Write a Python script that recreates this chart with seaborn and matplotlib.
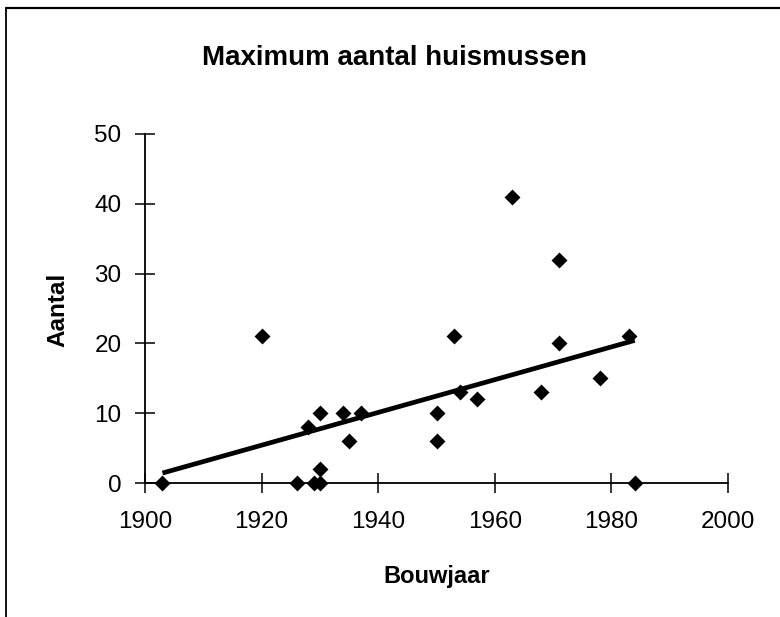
import matplotlib
matplotlib.use("Agg")
import matplotlib.pyplot as plt
from matplotlib.lines import Line2D
import seaborn as sns
import pandas as pd

# Data
bouwjaar = [1903, 1920, 1926, 1928, 1929, 1930, 1930, 1930, 1934, 1935, 1937,
            1950, 1950, 1953, 1954, 1957, 1963, 1968, 1971, 1971, 1978, 1983, 1984]
aantal = [0, 21, 0, 8, 0, 0, 2, 10, 10, 6, 10,
          10, 6, 21, 13, 12, 41, 13, 32, 20, 15, 21, 0]
x_ticks = [1900, 1920, 1940, 1960, 1980, 2000]
y_ticks = [0, 10, 20, 30, 40, 50]
title = "Maximum aantal huismussen"
x_label = "Bouwjaar"
y_label = "Aantal"

df = pd.DataFrame({"Bouwjaar": bouwjaar, "Aantal": aantal})

sns.set_style("ticks")
plt.rcParams["font.family"] = ["Liberation Sans", "DejaVu Sans"]
plt.rcParams["text.color"] = "black"
plt.rcParams["xtick.color"] = "black"
plt.rcParams["ytick.color"] = "black"
plt.rcParams["xtick.labelcolor"] = "black"
plt.rcParams["ytick.labelcolor"] = "black"

W, H = 780, 617
fig = plt.figure(figsize=(W / 100, H / 100), dpi=100)
ax = fig.add_axes([145 / W, 1 - 483 / H, 583 / W, 349 / H])

sns.regplot(data=df, x="Bouwjaar", y="Aantal", ax=ax, ci=None, color="black",
            marker="D",
            scatter_kws={"s": 66, "linewidths": 0, "clip_on": False, "zorder": 3,
                         "alpha": 1.0},
            line_kws={"linewidth": 3.4, "solid_capstyle": "butt", "zorder": 4})

ax.set_xlim(1900, 2000)
ax.set_ylim(0, 50)
ax.set_xticks(x_ticks)
ax.set_yticks(y_ticks)
ax.set_xlabel("")
ax.set_ylabel("")
sns.despine(ax=ax)
for side in ("left", "bottom"):
    ax.spines[side].set_linewidth(1.3)
    ax.spines[side].set_color("black")
ax.tick_params(axis="both", direction="inout", length=14, width=1.1,
               colors="black", labelsize=17.5)
ax.tick_params(axis="y", pad=10)
ax.tick_params(axis="x", pad=13)

fig.text(395 / W, 1 - 65 / H, title, ha="center", va="baseline",
         fontsize=20, fontweight="bold", color="black")
fig.text(437 / W, 1 - 577 / H, x_label, ha="center", va="center",
         fontsize=17, fontweight="bold", color="black")
fig.text(58 / W, 1 - 310 / H, y_label, ha="center", va="center",
         rotation=90, fontsize=17.5, fontweight="bold", color="black")

# frame around the chart area (left and top edges visible)
fig.add_artist(Line2D([6 / W, 6 / W], [0, 1 - 8 / H], transform=fig.transFigure,
                      color="black", linewidth=1.3))
fig.add_artist(Line2D([6 / W, 1], [1 - 8 / H, 1 - 8 / H], transform=fig.transFigure,
                      color="black", linewidth=1.6))

fig.savefig("out.png", dpi=100)
